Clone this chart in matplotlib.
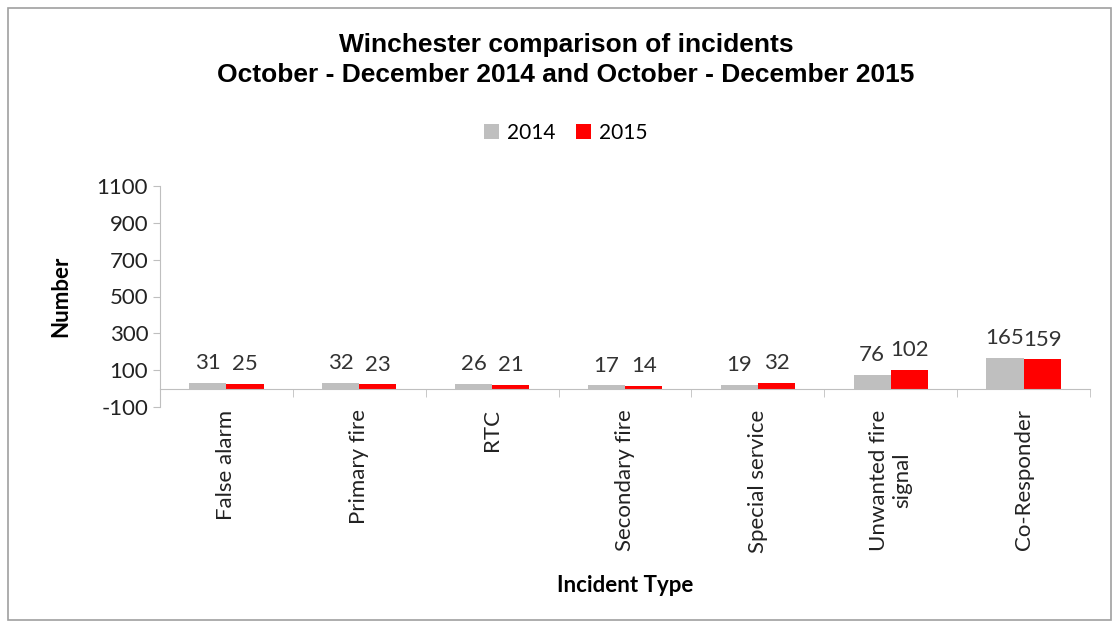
import numpy as np
import matplotlib.pyplot as plt
from matplotlib.patches import Rectangle

# Incident counts, Oct-Dec 2014 vs Oct-Dec 2015
categories = ["False alarm", "Primary fire", "RTC", "Secondary fire",
              "Special service", "Unwanted fire\nsignal", "Co-Responder"]
counts_2014 = [31, 32, 26, 17, 19, 76, 165]
counts_2015 = [25, 23, 21, 14, 32, 102, 159]
y_ticks = [-100, 100, 300, 500, 700, 900, 1100]

title_font = ['Liberation Sans', 'DejaVu Sans']
body_font = ['Lato', 'DejaVu Sans']

fig = plt.figure(figsize=(11.13, 6.28), dpi=100)
ax = fig.add_axes([160 / 1113, 1 - 407 / 628, 930 / 1113, 221 / 628])

x = np.arange(len(categories))
w = 0.28
b1 = ax.bar(x - w / 2, counts_2014, w, color='#BFBFBF', label='2014')
b2 = ax.bar(x + w / 2, counts_2015, w, color='#FF0000', label='2015')

# value labels above each bar
for bars in (b1, b2):
    for rect in bars:
        h = rect.get_height()
        ax.annotate(f"{int(h)}", (rect.get_x() + rect.get_width() / 2, h),
                    xytext=(0, 7), textcoords='offset points', ha='center', va='bottom',
                    fontsize=16, family=body_font, color='#333333')

ax.set_xlim(-0.5, len(categories) - 0.5)
ax.set_ylim(-100, 1100)
ax.set_yticks(y_ticks)
ax.set_yticklabels([str(v) for v in y_ticks], family=body_font, fontsize=16, color='#222222')

# x axis sits on zero, labels pushed down below the plot
for s in ['top', 'right']:
    ax.spines[s].set_visible(False)
ax.spines['bottom'].set_position(('data', 0))
ax.spines['bottom'].set_color('#BFBFBF')
ax.spines['left'].set_color('#BFBFBF')
ax.set_xticks(x)
ax.set_xticklabels(categories, rotation=90, va='top', ha='center',
                   family=body_font, fontsize=16, linespacing=1.25, color='#222222')
ax.tick_params(axis='x', which='major', length=0, pad=15)
ax.set_xticks(np.arange(len(categories) + 1) - 0.5, minor=True)
ax.tick_params(axis='x', which='minor', length=6, color='#BFBFBF', direction='out')
ax.tick_params(axis='y', length=5, color='#BFBFBF')

ax.set_ylabel("Number", family=body_font, fontsize=16, fontweight='bold', labelpad=18)
fig.text(625 / 1113, 1 - 585 / 628, "Incident Type", ha='center', va='center',
         family=body_font, fontsize=16, fontweight='bold')

fig.text(566 / 1113, 1 - 45 / 628, "Winchester comparison of incidents", ha='center',
         va='center', family=title_font, fontsize=19, fontweight='bold')
fig.text(566 / 1113, 1 - 75 / 628, "October - December 2014 and October - December 2015",
         ha='center', va='center', family=title_font, fontsize=19, fontweight='bold')

leg = fig.legend(handles=[b1, b2], loc='center', bbox_to_anchor=(566 / 1113, 1 - 133 / 628),
                 ncol=2, frameon=False, handlelength=0.7, handleheight=0.7,
                 handletextpad=0.4, columnspacing=1.0, prop={'family': body_font, 'size': 15})

fig.patches.append(Rectangle((8 / 1113, 8 / 628), 1 - 10 / 1113, 1 - 16 / 628,
                             transform=fig.transFigure, fill=False,
                             edgecolor='#A0A0A0', linewidth=1.2))

fig.savefig("out.png", dpi=100)
